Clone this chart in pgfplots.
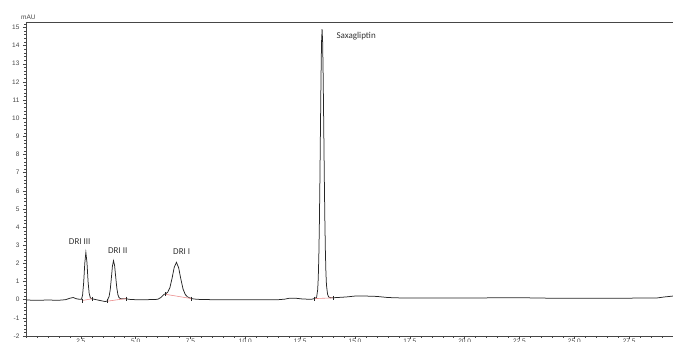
\documentclass[border=0pt]{standalone}
\usepackage{fontspec}
\setmainfont{Liberation Sans}
\newfontfamily\calib{Carlito}
\usepackage{pgfplots}
\pgfplotsset{compat=1.18}
\definecolor{tickgray}{RGB}{70,70,70}
\definecolor{intpink}{RGB}{235,140,140}
\begin{document}
\begin{tikzpicture}
\begin{axis}[
  scale only axis, width=647pt, height=314pt,
  xmin=0, xmax=29.5, ymin=-2, ymax=15.3,
  axis lines*=left,
  axis line style={tickgray, line width=0.6pt},
  tick align=outside,
  xtick={2.5,5,7.5,10,12.5,15,17.5,20,22.5,25,27.5},
  minor xtick={0,0.5,...,29.5},
  ytick={-2,-1,...,15},
  minor ytick={-2,-1.8,...,15.2},
  major tick length=3pt, minor tick length=1.8pt,
  tick style={tickgray, line width=0.4pt},
  ticklabel style={font=\fontsize{6.5}{7}\selectfont, text=tickgray},
  /pgf/number format/assume math mode=true,
  xticklabel style={inner sep=0.5pt, yshift=1pt, /pgf/number format/.cd, fixed, fixed zerofill, precision=1},
  yticklabel style={/pgf/number format/.cd, fixed, precision=0},
  clip=false,
]
\addplot[black!85, line width=0.75pt] coordinates {
(0,-0.02) (0.5,-0.03) (1.0,-0.02) (1.5,-0.03) (1.8,0.0) (2.0,0.08) (2.15,0.12) (2.3,0.05) (2.45,0.02)
(2.53,0.02) (2.58,0.26) (2.63,0.94) (2.68,2.0) (2.73,2.6) (2.78,2.05) (2.83,1.0) (2.88,0.35) (2.93,0.12) (2.98,0.05)
(3.05,0.04) (3.2,0.0) (3.4,-0.05) (3.6,-0.1) (3.7,-0.08)
(3.74,0.05) (3.79,0.18) (3.84,0.54) (3.89,1.16) (3.94,1.84) (3.99,2.15) (4.04,1.88) (4.09,1.25) (4.14,0.65) (4.19,0.28) (4.24,0.12)
(4.3,0.06) (4.4,0.05) (4.55,0.06) (4.7,0.02) (5.0,0.0) (5.5,0.0) (6.0,0.02) (6.15,0.12) (6.3,0.3)
(6.36,0.32) (6.46,0.41) (6.56,0.66) (6.66,1.18) (6.76,1.79) (6.86,2.06) (6.96,1.76) (7.06,1.14) (7.16,0.59) (7.26,0.29) (7.36,0.16) (7.46,0.10)
(7.6,0.05) (7.8,0.02) (8.5,0.0) (9.5,0.0) (10.5,0.0) (11.5,0.0) (11.8,0.03) (12.0,0.08) (12.3,0.08) (12.6,0.04) (13.0,0.02) (13.15,0.06)
(13.25,0.13) (13.3,0.56) (13.325,1.18) (13.35,2.29) (13.375,4.03) (13.4,6.49) (13.425,9.32) (13.45,12.12) (13.475,14.18) (13.5,14.9)
(13.525,14.2) (13.55,12.3) (13.575,9.6) (13.6,6.9) (13.625,4.5) (13.65,2.7) (13.675,1.5) (13.7,0.8) (13.75,0.3) (13.8,0.15) (13.9,0.1)
(14.2,0.12) (14.6,0.15) (15.0,0.2) (15.5,0.2) (16.0,0.18) (16.5,0.12) (17.0,0.1) (18,0.1) (19,0.1) (20,0.1) (21,0.1) (22,0.11)
(23,0.1) (24,0.08) (25,0.08) (26,0.08) (27,0.08) (28,0.09) (28.8,0.1) (29.1,0.15) (29.5,0.2)
};
% integration baselines
\addplot[intpink, line width=0.6pt] coordinates {(2.55,-0.05) (3.0,0.05)};
\addplot[intpink, line width=0.6pt] coordinates {(3.72,-0.08) (4.55,0.06)};
\addplot[intpink, line width=0.6pt] coordinates {(6.35,0.3) (7.55,0.06)};
\addplot[intpink, line width=0.6pt] coordinates {(13.15,0.06) (14.0,0.1)};
% integration markers
\addplot[only marks, mark=|, mark size=2pt, black!85, line width=0.5pt] coordinates {
(2.55,-0.05) (3.0,0.05) (3.72,-0.08) (4.55,0.06) (6.35,0.3) (7.55,0.06) (13.15,0.06) (14.0,0.1)};
\draw[tickgray, line width=0.6pt] (rel axis cs:0,1) -- (rel axis cs:1,1);
\node[anchor=base west, font=\fontsize{6.5}{7}\selectfont, text=tickgray, inner sep=0pt] at (rel axis cs:0,1) [xshift=-5pt, yshift=2.5pt] {mAU};
\node[font=\calib\fontsize{9}{10}\selectfont, text=black!80] at (axis cs:2.45,3.2) {DRI III};
\node[font=\calib\fontsize{9}{10}\selectfont, text=black!80] at (axis cs:4.18,2.7) {DRI II};
\node[font=\calib\fontsize{9}{10}\selectfont, text=black!80] at (axis cs:7.1,2.65) {DRI I};
\node[anchor=west, font=\calib\fontsize{9}{10}\selectfont, text=black!80, inner sep=0pt] at (axis cs:14.15,14.5) {Saxagliptin};
\end{axis}
\pgfresetboundingbox
\path ([xshift=-26pt,yshift=-6pt]current axis.south west) rectangle ([yshift=22pt]current axis.north east);
\end{tikzpicture}
\end{document}
